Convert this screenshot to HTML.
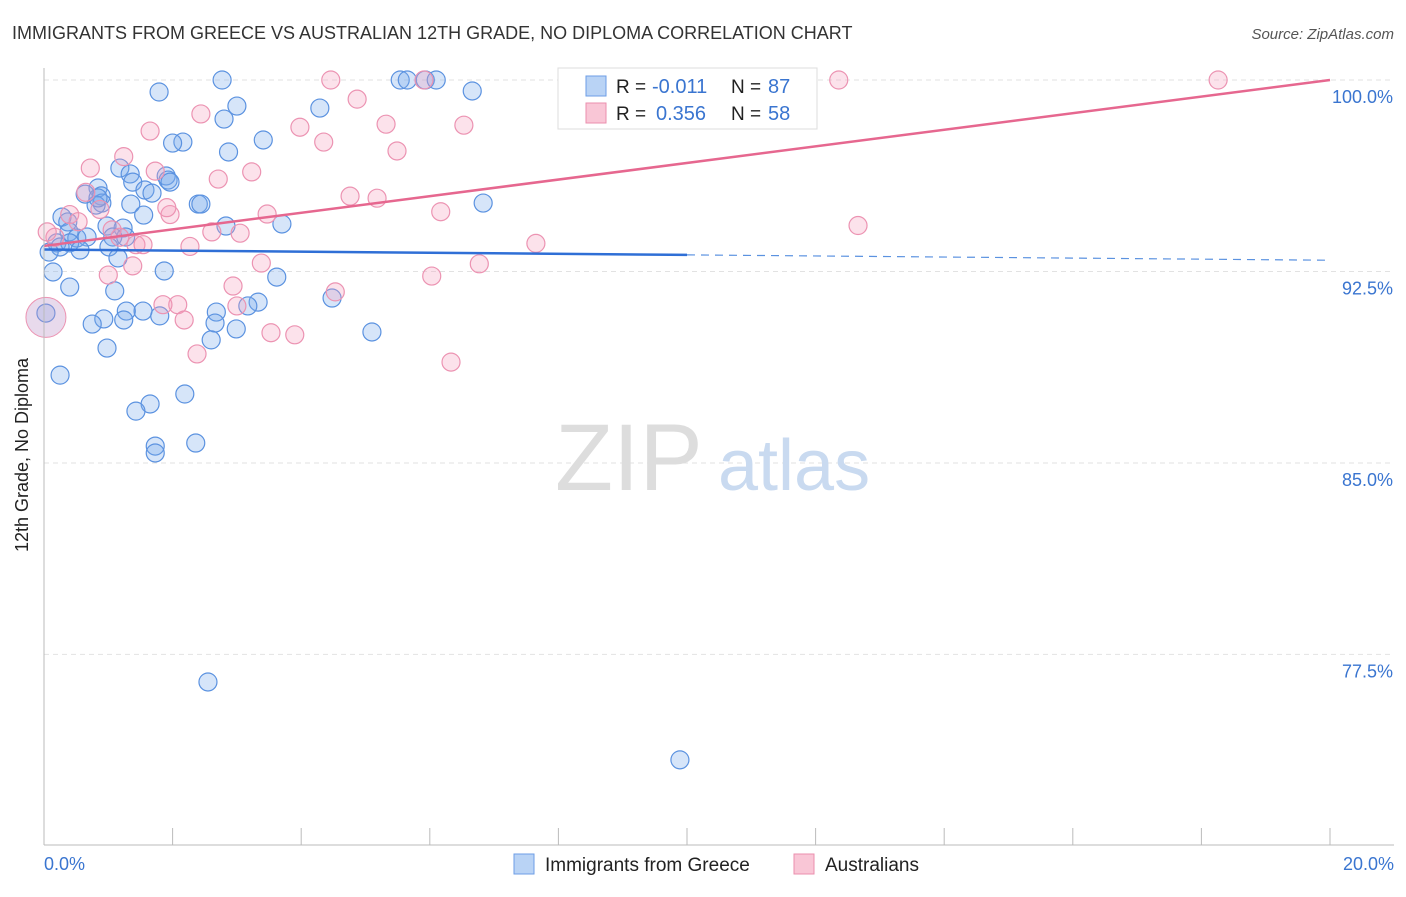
<!DOCTYPE html>
<html><head><meta charset="utf-8"><style>
body{margin:0;background:#fff;font-family:"Liberation Sans",sans-serif;}
svg text{font-family:"Liberation Sans",sans-serif;}
</style></head><body>
<svg width="1406" height="892" xmlns="http://www.w3.org/2000/svg">
<text x="12" y="39" font-size="18" fill="#333">IMMIGRANTS FROM GREECE VS AUSTRALIAN 12TH GRADE, NO DIPLOMA CORRELATION CHART</text>
<text x="1394" y="39" font-size="15" fill="#555" font-style="italic" text-anchor="end">Source: ZipAtlas.com</text>
<g id="grid"></g>
<text x="555" y="490" font-size="95" fill="#ddd" font-family="Liberation Serif">ZIP</text>
<text x="718" y="490" font-size="72" fill="#c9daf0">atlas</text>
<g id="pts"></g>
<g id="lines"></g>
<line x1="44" y1="68" x2="44" y2="845" stroke="#bbb"/>
<line x1="44" y1="845" x2="1394" y2="845" stroke="#bbb"/>
<g id="xt"></g>
<text x="28" y="455" font-size="18" fill="#222" text-anchor="middle" transform="rotate(-90 28 455)">12th Grade, No Diploma</text>
<text x="44" y="870" font-size="18" fill="#3a75d0">0.0%</text>
<text x="1394" y="870" font-size="18" fill="#3a75d0" text-anchor="end">20.0%</text>
<g>
<rect x="558" y="68" width="259" height="61" fill="#fff" stroke="#ddd"/>
<rect x="586" y="76" width="20" height="20" fill="#b9d3f5" stroke="#6d9ee6"/>
<rect x="586" y="103" width="20" height="20" fill="#f9c6d6" stroke="#eb8fae"/>
<text x="616" y="93" font-size="19" fill="#222">R =</text>
<text x="652" y="93" font-size="20" fill="#3a75d0">-0.011</text>
<text x="731" y="93" font-size="19" fill="#222">N =</text>
<text x="768" y="93" font-size="20" fill="#3a75d0">87</text>
<text x="616" y="120" font-size="19" fill="#222">R =</text>
<text x="656" y="120" font-size="20" fill="#3a75d0">0.356</text>
<text x="731" y="120" font-size="19" fill="#222">N =</text>
<text x="768" y="120" font-size="20" fill="#3a75d0">58</text>
</g>
<g>
<rect x="514" y="854" width="20" height="20" fill="#b9d3f5" stroke="#6d9ee6"/>
<text x="545" y="871" font-size="19" fill="#222">Immigrants from Greece</text>
<rect x="794" y="854" width="20" height="20" fill="#f9c6d6" stroke="#eb8fae"/>
<text x="825" y="871" font-size="19" fill="#222">Australians</text>
</g>
</svg>
<script>
const yTicks=[100,92.5,85,77.5];
const yTickLabels=["100.0%","92.5%","85.0%","77.5%"];
const xTicks=[0,2,4,6,8,10,12,14,16,18,20];
const blueX=[2.77,5.54,5.65,5.93,6.1,1.79,6.66,3.0,4.29,2.8,3.41,2.16,2.0,2.87,1.18,1.34,1.38,1.9,1.93,1.96,1.57,1.68,0.84,0.64,0.89,0.9,0.81,1.35,2.4,2.44,1.55,0.28,0.37,6.83,3.7,2.83,1.23,0.98,0.39,0.51,0.67,1.07,1.27,0.2,0.4,0.25,0.56,1.01,1.15,0.14,1.87,3.62,0.4,1.1,4.48,3.33,3.17,2.68,1.54,1.28,0.93,0.75,1.24,1.8,2.66,2.99,5.1,2.6,0.98,0.25,2.19,1.65,1.43,2.36,1.73,1.73,2.55,9.89,0.03,0.08,0.84];
const blueY=[100,100,100,100,100,99.53,99.57,98.98,98.9,98.47,97.65,97.57,97.53,97.18,96.55,96.32,96.0,96.24,96.08,96.0,95.69,95.57,95.77,95.53,95.46,95.18,95.1,95.14,95.14,95.14,94.71,94.63,94.44,95.18,94.36,94.28,94.2,94.28,94.05,93.81,93.85,93.85,93.85,93.62,93.62,93.46,93.34,93.46,93.03,92.48,92.52,92.28,91.89,91.74,91.46,91.3,91.15,90.91,90.95,90.95,90.64,90.44,90.6,90.76,90.48,90.25,90.13,89.82,89.5,88.44,87.7,87.31,87.03,85.78,85.66,85.39,76.42,73.37,90.87,93.26,95.38];
const pinkX=[4.46,5.91,12.36,18.26,4.87,2.44,1.65,3.98,5.32,6.53,4.35,5.49,1.24,0.72,1.73,2.71,3.23,4.76,5.18,0.65,0.87,1.96,1.91,3.47,6.17,12.66,0.4,0.53,1.06,2.61,3.05,7.65,2.27,0.17,1.43,0.05,3.38,6.77,1.38,1.0,6.03,2.94,4.53,2.08,1.85,2.18,3.0,3.53,3.9,2.38,6.33,1.54,1.18];
const pinkY=[100,100,100,100,99.25,98.67,98.0,98.15,98.27,98.23,97.57,97.22,97.0,96.55,96.43,96.12,96.4,95.45,95.37,95.6,94.93,94.73,95.0,94.75,94.84,94.3,94.73,94.45,94.13,94.05,94.0,93.6,93.48,93.84,93.55,94.05,92.83,92.8,92.72,92.36,92.32,91.93,91.7,91.2,91.2,90.6,91.15,90.1,90.02,89.27,88.95,93.55,93.84];
const bigX=[0.03];const bigY=[90.7];
const blueLine=[93.36,-0.021];
const pinkLine=[93.5,0.325];
const X=v=>44+v*64.3, Y=v=>80+(100-v)*25.53;
const NS="http://www.w3.org/2000/svg";
function mk(t,a,p){const e=document.createElementNS(NS,t);for(const k in a)e.setAttribute(k,a[k]);p.appendChild(e);return e;}
const grid=document.getElementById('grid');
yTicks.forEach((t,i)=>{const l=mk('line',{x1:44,x2:1394,y1:Y(t),y2:Y(t),stroke:'#e2e2e2','stroke-dasharray':'5,4'},grid);


const tx=mk('text',{x:1393,y:Y(t)+23,'font-size':18,fill:'#3a75d0','text-anchor':'end'},grid);tx.textContent=yTickLabels[i];

});
const xt=document.getElementById('xt');
xTicks.forEach(t=>{const l=mk('line',{x1:X(t),x2:X(t),y1:828,y2:845,stroke:'#bbb'},xt);

});
const pts=document.getElementById('pts');
blueX.forEach((x,i)=>{const c=mk('circle',{cx:X(x),cy:Y(blueY[i]),r:9,fill:'rgba(120,170,235,0.3)',stroke:'#5b92e0','stroke-width':1.2},pts);

});
pinkX.forEach((x,i)=>{const c=mk('circle',{cx:X(x),cy:Y(pinkY[i]),r:9,fill:'rgba(245,160,190,0.3)',stroke:'#ec93b2','stroke-width':1.2},pts);

});
bigX.forEach((x,i)=>{const c=mk('circle',{cx:X(x),cy:Y(bigY[i]),r:20,fill:'rgba(190,150,200,0.35)',stroke:'#ec93b2'},pts);

});
const ln=document.getElementById('lines');
const fb=x=>blueLine[0]+blueLine[1]*x, fp=x=>pinkLine[0]+pinkLine[1]*x;
let a=mk('line',{x1:X(0),y1:Y(fb(0)),x2:X(10),y2:Y(fb(10)),stroke:'#2f6fd6','stroke-width':2.5},ln);


a=mk('line',{x1:X(10),y1:Y(fb(10)),x2:X(20),y2:Y(fb(20)),stroke:'#5b92e0','stroke-width':1.2,'stroke-dasharray':'8,6'},ln);


a=mk('line',{x1:X(0),y1:Y(fp(0)),x2:X(20),y2:Y(fp(20)),stroke:'#e6678f','stroke-width':2.5},ln);


</script>
</body></html>
